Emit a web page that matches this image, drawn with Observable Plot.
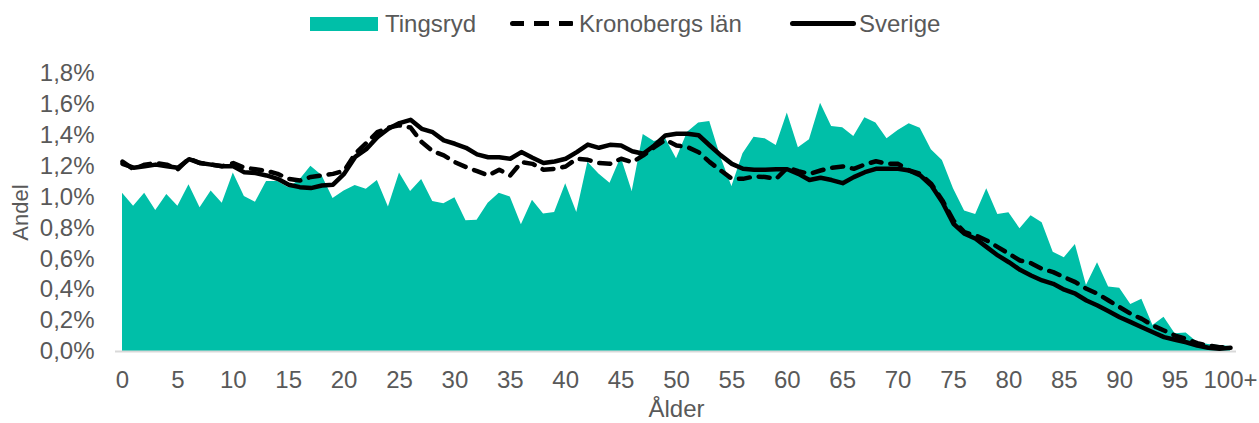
<!DOCTYPE html>
<html>
<head>
<meta charset="utf-8">
<script src="https://cdn.jsdelivr.net/npm/d3@7"></script>
<script src="https://cdn.jsdelivr.net/npm/@observablehq/plot@0.6"></script>
<style>
  html, body { margin: 0; padding: 0; background: #fff; }
  body { width: 1259px; height: 423px; overflow: hidden; font-family: "Liberation Sans", Arial, sans-serif; }
  #legend { position: relative; height: 45px; color: #595959; font-size: 24px; }
  .item { position: absolute; top: 11px; height: 26px; line-height: 26px; white-space: nowrap; }
  .sw { position: absolute; }
</style>
</head>
<body>
<div id="legend">
  <div class="sw" style="left:310px;top:17px;width:68px;height:14px;background:#00BFA8"></div>
  <div class="item" style="left:385px">Tingsryd</div>
  <div class="sw" style="left:510px;top:21px;width:64px;height:5px;background:repeating-linear-gradient(90deg,#000 0 14px,transparent 14px 24.5px);border-radius:3px"></div>
  <div class="item" style="left:579px">Kronobergs län</div>
  <div class="sw" style="left:790px;top:21px;width:66px;height:5px;background:#000;border-radius:3px"></div>
  <div class="item" style="left:859px">Sverige</div>
</div>
<div id="chart"></div>
<script>
const ages = d3.range(0, 101);
const xTicks = [0,5,10,15,20,25,30,35,40,45,50,55,60,65,70,75,80,85,90,95,100];
const xTickLabels = ["0","5","10","15","20","25","30","35","40","45","50","55","60","65","70","75","80","85","90","95","100+"];
const yTicks = [0,0.2,0.4,0.6,0.8,1.0,1.2,1.4,1.6,1.8];

// Andel (%) per ålder
const tingsryd = [
  1.025,0.94,1.025,0.913,1.017,0.94,1.08,0.93,1.04,0.96,
  1.155,1.004,0.967,1.10,1.10,1.06,1.11,1.20,1.14,0.99,
  1.04,1.075,1.05,1.107,0.935,1.155,1.036,1.114,0.971,0.956,
  0.995,0.846,0.85,0.96,1.025,1.0,0.82,0.98,0.89,0.90,
  1.086,0.90,1.226,1.15,1.09,1.258,1.036,1.405,1.36,1.38,
  1.248,1.42,1.479,1.49,1.258,1.069,1.28,1.388,1.377,1.334,
  1.544,1.319,1.371,1.608,1.457,1.449,1.392,1.513,1.479,1.377,
  1.431,1.474,1.446,1.306,1.237,1.054,0.909,0.887,1.054,0.887,
  0.898,0.795,0.879,0.833,0.643,0.607,0.693,0.427,0.574,0.417,
  0.41,0.304,0.339,0.168,0.222,0.115,0.119,0.06,0.045,0.039,
  0.032
];
const kronoberg = [
  1.23,1.18,1.21,1.22,1.21,1.18,1.25,1.22,1.21,1.20,
  1.22,1.19,1.18,1.17,1.15,1.118,1.107,1.13,1.14,1.15,
  1.17,1.28,1.35,1.42,1.45,1.464,1.45,1.356,1.297,1.27,
  1.226,1.194,1.168,1.14,1.177,1.14,1.226,1.215,1.177,1.183,
  1.198,1.248,1.241,1.22,1.215,1.248,1.226,1.27,1.323,1.37,
  1.334,1.323,1.29,1.226,1.172,1.118,1.118,1.133,1.13,1.118,
  1.19,1.168,1.15,1.172,1.19,1.198,1.183,1.211,1.232,1.215,
  1.215,1.172,1.15,1.085,0.978,0.848,0.772,0.751,0.719,0.676,
  0.633,0.589,0.572,0.535,0.514,0.481,0.449,0.406,0.374,0.33,
  0.287,0.244,0.211,0.168,0.136,0.103,0.082,0.054,0.039,0.028,
  0.028
];
const sverige = [
  1.215,1.19,1.20,1.21,1.20,1.19,1.245,1.22,1.21,1.20,
  1.20,1.16,1.155,1.14,1.118,1.08,1.064,1.058,1.075,1.08,
  1.15,1.26,1.31,1.388,1.442,1.479,1.50,1.442,1.42,1.367,
  1.345,1.319,1.276,1.258,1.258,1.248,1.291,1.254,1.22,1.23,
  1.248,1.291,1.34,1.319,1.338,1.334,1.297,1.28,1.334,1.399,
  1.41,1.41,1.40,1.334,1.27,1.215,1.183,1.177,1.177,1.18,
  1.18,1.15,1.11,1.125,1.11,1.09,1.129,1.161,1.183,1.183,
  1.183,1.172,1.14,1.075,0.967,0.827,0.762,0.73,0.676,0.622,
  0.578,0.529,0.492,0.46,0.438,0.40,0.374,0.33,0.298,0.261,
  0.222,0.19,0.157,0.125,0.093,0.076,0.06,0.039,0.024,0.017,
  0.024
];

const rows = ages.map((a, i) => ({age: a, t: tingsryd[i], k: kronoberg[i], s: sverige[i]}));
const fmtY = d => d.toFixed(1).replace(".", ",") + "%";
const fmtX = d => xTickLabels[xTicks.indexOf(d)];

const chart = Plot.plot({
  width: 1259,
  height: 378,
  marginTop: 28,
  marginBottom: 72,
  marginLeft: 122,
  marginRight: 29,
  style: {fontFamily: "Liberation Sans, Arial, sans-serif", fontSize: "24px", color: "#595959", background: "#fff"},
  x: {domain: [0, 100]},
  y: {domain: [0, 1.8]},
  marks: [
    Plot.areaY(rows, {x: "age", y: "t", fill: "#00BFA8", curve: "linear"}),
    Plot.ruleY([0], {stroke: "#d9d9d9", strokeWidth: 2, insetLeft: -7, insetRight: -6}),
    Plot.line(rows, {x: "age", y: "k", stroke: "#000", strokeWidth: 4.5, strokeDasharray: "11,9", strokeLinecap: "round", strokeLinejoin: "round"}),
    Plot.line(rows, {x: "age", y: "s", stroke: "#000", strokeWidth: 4.5, strokeLinejoin: "round", strokeLinecap: "round"}),
    Plot.axisY({ticks: yTicks, tickFormat: fmtY, tickSize: 0, tickPadding: 28, fill: "#595959", fontSize: 24,
      label: null}),
    Plot.axisY({ticks: [], tickSize: 0, fill: "#595959", fontSize: 22,
      label: "Andel", labelAnchor: "center", labelOffset: 110, labelArrow: "none"}),
    Plot.axisX({ticks: xTicks, tickFormat: fmtX, tickSize: 0, tickPadding: 19, fill: "#595959", fontSize: 24,
      label: "Ålder", labelAnchor: "center", labelOffset: 65, labelArrow: "none"})
  ]
});
document.getElementById("chart").appendChild(chart);
</script>
</body>
</html>
